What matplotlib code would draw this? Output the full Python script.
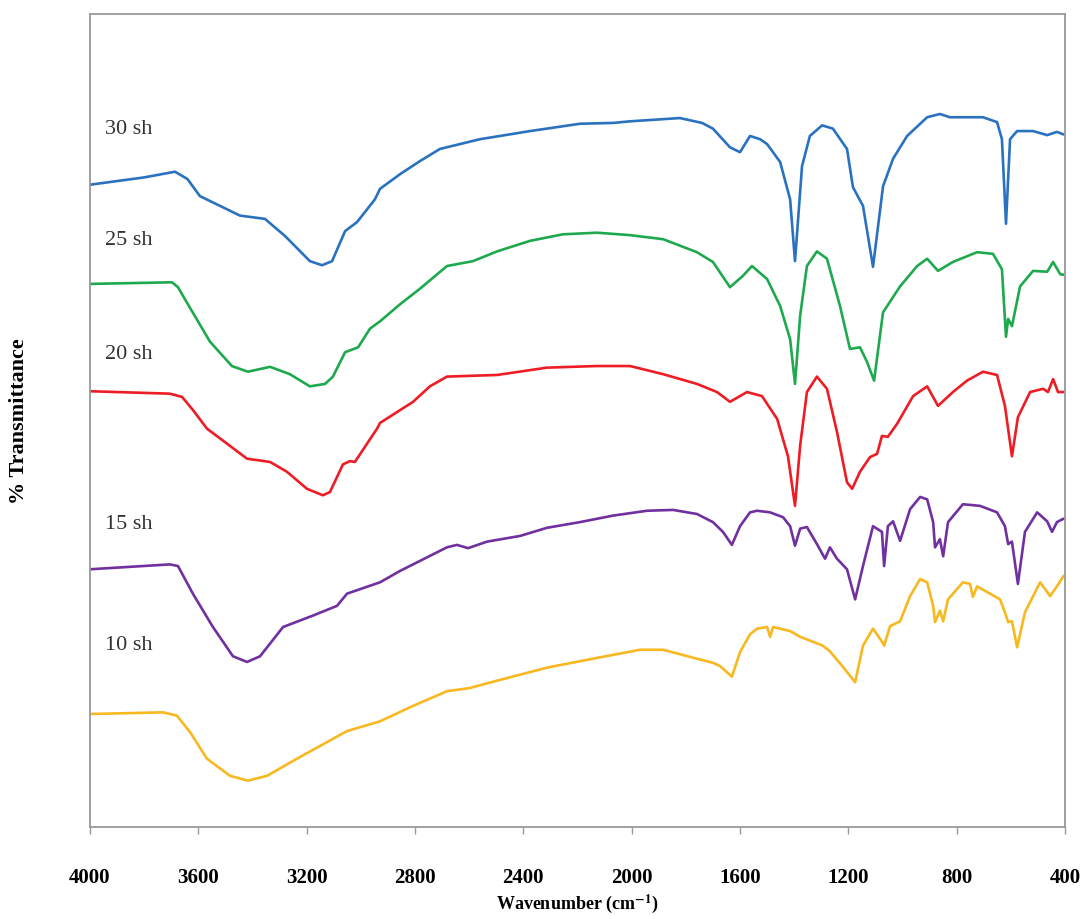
#!/usr/bin/env python3
"""FTIR spectra of the 10-30 sh samples, stacked, read off the published figure."""

import matplotlib
matplotlib.use("Agg")
import matplotlib.pyplot as plt

plt.rcParams["font.family"] = ["Liberation Serif", "DejaVu Serif"]
plt.rcParams["mathtext.fontset"] = "stix"

# wavenumber (cm-1) / transmittance (arbitrary offset %) pairs per sample
wn_30 = [4000, 3800, 3686, 3640, 3594, 3446, 3354, 3280, 3188, 3143, 3106, 3058, 3014, 2948,
         2929, 2855, 2782, 2708, 2560, 2375, 2191, 2069, 2006, 1822, 1740, 1700, 1637, 1600,
         1563, 1526, 1500, 1452, 1415, 1397, 1371, 1342, 1297, 1257, 1205, 1183, 1146, 1109,
         1072, 1035, 983, 909, 862, 825, 703, 651, 633, 618, 603, 577, 518, 466, 430, 407, 400]
t_30 = [79.0, 79.9, 80.6, 79.7, 77.6, 75.2, 74.8, 72.7, 69.6, 69.1, 69.6, 73.3, 74.4, 77.2,
        78.5, 80.3, 81.9, 83.4, 84.6, 85.6, 86.5, 86.6, 86.8, 87.2, 86.6, 85.9, 83.6, 83.0,
        85.0, 84.6, 84.0, 81.8, 77.2, 69.6, 81.3, 85.0, 86.3, 85.9, 83.4, 78.7, 76.4, 68.9,
        78.8, 82.2, 85.0, 87.3, 87.7, 87.3, 87.3, 86.7, 84.6, 74.2, 84.6, 85.6, 85.6, 85.1,
        85.5, 85.2, 85.2]

wn_25 = [4000, 3697, 3675, 3649, 3557, 3476, 3417, 3335, 3262, 3188, 3132, 3103, 3058, 3010,
         2966, 2929, 2855, 2782, 2682, 2586, 2497, 2375, 2254, 2128, 2006, 1884, 1759, 1700,
         1637, 1589, 1556, 1500, 1452, 1415, 1397, 1378, 1353, 1316, 1279, 1231, 1194, 1157,
         1131, 1105, 1072, 1009, 946, 909, 869, 814, 725, 666, 633, 618, 610, 596, 566, 518,
         466, 444, 418, 400]
t_25 = [66.8, 67.0, 66.4, 64.9, 59.7, 56.7, 56.0, 56.6, 55.7, 54.2, 54.5, 55.4, 58.4, 59.0,
        61.3, 62.2, 64.3, 66.2, 69.0, 69.6, 70.8, 72.1, 72.9, 73.1, 72.8, 72.3, 70.7, 69.5,
        66.4, 67.8, 69.0, 67.4, 64.1, 60.0, 54.5, 62.9, 69.0, 70.8, 69.9, 64.1, 58.8, 59.0,
        57.2, 54.9, 63.3, 66.5, 69.0, 69.9, 68.4, 69.5, 70.7, 70.5, 68.6, 60.3, 62.5, 61.6,
        66.5, 68.4, 68.3, 69.5, 68.0, 67.9]

wn_20 = [4000, 3705, 3660, 3620, 3568, 3420, 3335, 3273, 3199, 3140, 3114, 3066, 3040, 3022,
         2940, 2929, 2807, 2745, 2682, 2497, 2313, 2128, 2006, 1884, 1759, 1685, 1637, 1574,
         1519, 1463, 1423, 1397, 1378, 1353, 1316, 1279, 1242, 1205, 1186, 1157, 1120, 1094,
         1076, 1054, 1020, 961, 909, 869, 814, 762, 703, 651, 622, 596, 574, 529, 481, 463,
         444, 426, 400]
t_20 = [53.6, 53.3, 52.9, 51.3, 49.0, 45.3, 44.9, 43.7, 41.6, 40.8, 41.2, 44.6, 45.0, 44.9,
        49.0, 49.7, 52.3, 54.2, 55.4, 55.6, 56.5, 56.7, 56.7, 55.7, 54.5, 53.5, 52.3, 53.5,
        53.0, 50.2, 45.6, 39.5, 46.9, 53.5, 55.4, 53.9, 48.6, 42.4, 41.6, 43.7, 45.5, 45.9,
        48.1, 48.0, 49.6, 53.0, 54.2, 51.8, 53.5, 54.9, 56.0, 55.6, 51.8, 45.6, 50.4, 53.5,
        53.9, 53.5, 55.1, 53.5, 53.5]

wn_15 = [4000, 3705, 3675, 3620, 3546, 3472, 3420, 3372, 3287, 3177, 3088, 3051, 2929, 2855,
         2682, 2645, 2604, 2534, 2412, 2313, 2191, 2069, 1943, 1847, 1759, 1700, 1663, 1630,
         1600, 1563, 1537, 1489, 1441, 1415, 1397, 1378, 1353, 1316, 1286, 1268, 1242, 1205,
         1175, 1146, 1109, 1076, 1068, 1054, 1035, 1009, 972, 935, 909, 887, 880, 862, 850,
         832, 777, 714, 651, 622, 610, 596, 574, 548, 503, 466, 448, 430, 407, 400]
t_15 = [31.7, 32.3, 32.1, 28.7, 24.6, 21.0, 20.3, 21.0, 24.6, 26.0, 27.2, 28.7, 30.1, 31.5,
        34.4, 34.7, 34.3, 35.1, 35.8, 36.8, 37.5, 38.3, 38.9, 39.0, 38.5, 37.5, 36.3, 34.7,
        37.0, 38.7, 38.9, 38.7, 38.1, 37.0, 34.6, 36.7, 36.9, 34.8, 33.0, 34.4, 33.0, 31.7,
        28.0, 32.1, 37.0, 36.3, 32.1, 37.0, 37.6, 35.2, 39.1, 40.6, 40.3, 37.5, 34.4, 35.4,
        33.3, 37.5, 39.7, 39.5, 38.7, 37.0, 34.8, 35.1, 29.9, 36.3, 38.7, 37.6, 36.3, 37.5,
        37.9, 37.9]

wn_10 = [4000, 3730, 3679, 3631, 3568, 3483, 3417, 3346, 3236, 3051, 2929, 2807, 2682, 2597,
         2497, 2313, 2128, 1969, 1884, 1759, 1700, 1674, 1630, 1600, 1563, 1537, 1500, 1489,
         1478, 1415, 1378, 1294, 1268, 1220, 1175, 1146, 1109, 1076, 1068, 1046, 1009, 972,
         935, 909, 887, 880, 862, 850, 832, 777, 751, 740, 725, 677, 640, 622, 610, 596, 577,
         548, 492, 455, 430, 407, 400]
t_10 = [13.9, 14.1, 13.7, 11.7, 8.4, 6.3, 5.7, 6.3, 8.4, 11.8, 13.0, 14.9, 16.7, 17.1,
        18.0, 19.6, 20.8, 21.8, 21.8, 20.7, 20.2, 19.8, 18.5, 21.5, 23.7, 24.4, 24.6, 23.4,
        24.6, 24.1, 23.4, 22.3, 21.6, 19.7, 17.8, 22.3, 24.4, 22.8, 22.3, 24.7, 25.3, 28.4,
        30.5, 30.1, 27.2, 25.2, 26.6, 25.3, 28.0, 30.1, 29.9, 28.3, 29.6, 28.7, 28.0, 26.4,
        25.2, 25.3, 22.1, 26.4, 30.1, 28.4, 29.6, 30.8, 31.0]

labels = ["30 sh", "25 sh", "20 sh", "15 sh", "10 sh"]
label_y = [85.9, 72.3, 58.3, 37.3, 22.4]
colors = ["#2a72c0", "#1fa94f", "#ee1c24", "#7030a0", "#f7b820"]

x_ticks = [4000, 3600, 3200, 2800, 2400, 2000, 1600, 1200, 800, 400]


def main() -> None:
    fig = plt.figure(figsize=(10.89, 9.2), dpi=100)
    ax = fig.add_axes([0.0826, 0.1, 0.8954, 0.8837])

    series = [(wn_30, t_30), (wn_25, t_25), (wn_20, t_20), (wn_15, t_15), (wn_10, t_10)]
    for (wn, t), col in zip(series, colors):
        ax.plot(wn, t, color=col, lw=1.9, solid_joinstyle="round")

    for lab, y in zip(labels, label_y):
        ax.text(3945, y, lab, fontsize=16, color="#333333", va="center", ha="left")

    ax.set_xlim(4000, 400)
    ax.set_ylim(0, 100)
    ax.set_xticks(x_ticks)
    ax.set_xticklabels([str(v) for v in x_ticks], fontsize=15, fontweight="bold")
    ax.set_yticks([])
    ax.tick_params(axis="x", direction="out", length=5, width=1, color="#999999", pad=24)

    for sp in ax.spines.values():
        sp.set_color("#999999")
        sp.set_linewidth(1.3)

    ax.set_xlabel(r"Wavenumber (cm$^{\mathbf{-1}}$)", fontsize=13, fontweight="bold", labelpad=3)
    ax.set_ylabel("% Transmittance", fontsize=16, fontweight="bold", labelpad=44)

    fig.savefig("out.png", dpi=100)
    plt.close(fig)


if __name__ == "__main__":
    main()
